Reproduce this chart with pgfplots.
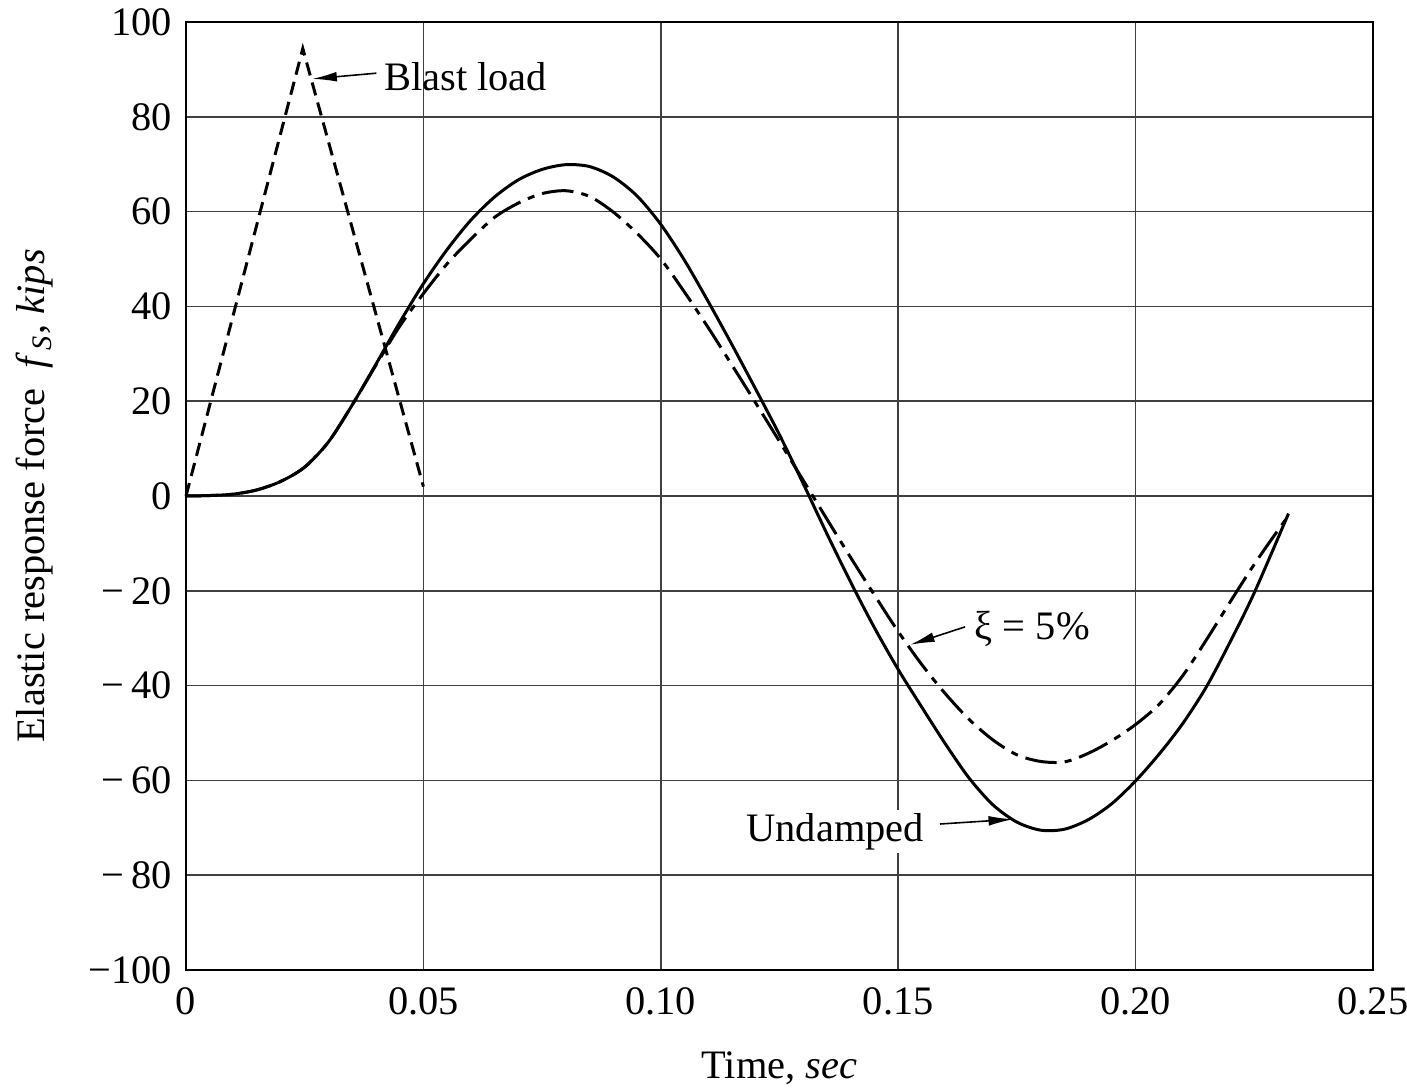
\documentclass[border=0pt]{standalone}
\usepackage{pgfplots}
\pgfplotsset{compat=1.18}
\usepackage{fontspec}
\setmainfont{Liberation Serif}
\usetikzlibrary{arrows.meta}

% elastic force, undamped
\pgfplotstableread{
t f
0.000 0
0.005 0.1
0.010 0.4
0.015 1.3
0.020 3.1
0.025 6.1
0.030 11.4
0.035 19.2
0.040 27.8
0.045 36.6
0.050 44.8
0.055 52.0
0.060 58.2
0.065 63.1
0.070 66.7
0.075 68.9
0.080 69.9
0.085 69.5
0.090 67.3
0.095 63.3
0.100 57.3
0.105 49.7
0.110 41.0
0.115 31.9
0.120 22.5
0.125 12.9
0.130 2.6
0.135 -8.0
0.140 -18.2
0.145 -27.8
0.150 -36.6
0.155 -44.6
0.160 -52.4
0.165 -59.6
0.170 -65.2
0.175 -68.8
0.180 -70.5
0.185 -70.3
0.190 -68.3
0.195 -64.9
0.200 -60.1
0.205 -54.4
0.210 -47.9
0.215 -40.1
0.220 -30.6
0.225 -20.4
0.2322 -3.7
}\undamped

% elastic force, 5% damping
\pgfplotstableread{
t f
0.000 0
0.005 0.1
0.010 0.4
0.015 1.3
0.020 3.1
0.025 6.1
0.030 11.4
0.035 19.2
0.040 27.6
0.045 35.8
0.050 42.7
0.055 49.0
0.060 54.2
0.065 58.8
0.070 61.8
0.075 63.8
0.080 64.4
0.085 63.2
0.090 59.9
0.095 55.4
0.100 50.0
0.105 43.0
0.110 35.5
0.115 27.6
0.120 19.6
0.125 11.5
0.130 3.3
0.135 -4.9
0.140 -13.0
0.145 -20.9
0.150 -28.6
0.155 -35.6
0.160 -41.8
0.165 -47.2
0.170 -51.5
0.175 -54.6
0.180 -56.0
0.185 -56.1
0.190 -54.3
0.195 -51.6
0.200 -48.2
0.205 -43.9
0.210 -37.8
0.215 -30.2
0.220 -22.2
0.225 -14.4
0.230 -7.2
0.2322 -4.2
}\damped

% triangular blast load
\pgfplotstableread{
t f
0 0
0.0246 94.4
0.050 2
}\blast

\begin{document}
\fontsize{11.5}{13.8}\selectfont
\begin{tikzpicture}
\begin{axis}[
  scale only axis,
  width=11.87cm, height=9.48cm,
  xmin=0, xmax=0.25, ymin=-100, ymax=100,
  xtick={0,0.05,0.10,0.15,0.20,0.25},
  xticklabels={0,0.05,0.10,0.15,0.20,0.25},
  ytick={-100,-80,-60,-40,-20,0,20,40,60,80,100},
  yticklabels={−100,−\,80,−\,60,−\,40,−\,20,0,20,40,60,80,100},
  major tick length=0pt,
  grid=major,
  major grid style={black!75, line width=0.5pt},
  axis line style={line width=0.6pt},
  xticklabel style={yshift=-1pt},
  clip=false,
]
\addplot[black, line width=0.85pt, dash pattern=on 3.8pt off 2.1pt] table[x=t,y=f] {\blast};
\addplot[black, line width=0.85pt, smooth] table[x=t,y=f] {\undamped};
\addplot[black, line width=0.85pt, smooth, dash pattern=on 9pt off 2.3pt on 2pt off 2.3pt] table[x=t,y=f] {\damped};

\draw[-{Latex[length=7pt,width=2.8pt]}, line width=0.45pt] (axis cs:0.0401,89.2) -- (axis cs:0.0266,88.0);
\node[anchor=west, inner sep=0pt] at (axis cs:0.0416,88.5) {Blast load};

\draw[-{Latex[length=7pt,width=2.8pt]}, line width=0.45pt] (axis cs:0.1641,-27.6) -- (axis cs:0.1525,-31.4);
\node[anchor=west, inner sep=0pt] at (axis cs:0.1660,-28.0) {ξ = 5\%};

\draw[-{Latex[length=7pt,width=2.8pt]}, line width=0.45pt] (axis cs:0.1588,-69.2) -- (axis cs:0.1742,-68.2);
\node[anchor=east, fill=white, inner sep=1pt] at (axis cs:0.1563,-70.8) {Undamped};

\node[rotate=90, anchor=center] at ([xshift=-1.51cm]rel axis cs:0,0.5)
  {Elastic response force\ \ \textit{f}\kern0.5pt\textsubscript{\textit{S}}, \textit{kips}};
\node[anchor=center] at ([yshift=-0.98cm]rel axis cs:0.5,0) {Time, \textit{sec}};
\end{axis}
\pgfresetboundingbox
\path (current axis.south west) ++(-1.86cm,-1.21cm) rectangle ([xshift=0.34cm,yshift=0.22cm]current axis.north east);
\end{tikzpicture}
\end{document}
